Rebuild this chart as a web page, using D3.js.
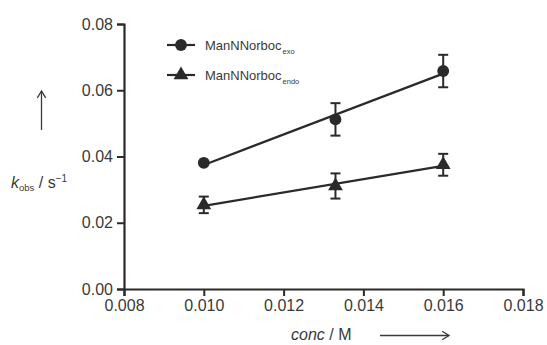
<!DOCTYPE html>
<html>
<head>
<meta charset="utf-8">
<script src="https://cdn.jsdelivr.net/npm/d3@7"></script>
<style>
  body { margin: 0; background: #fff; }
  svg { display: block; font-family: "Liberation Sans", Arial, sans-serif; }
</style>
</head>
<body>
<div id="chart"></div>
<script>
// data
const conc = [0.010, 0.0133, 0.016];
const exoValues = [0.0381, 0.0512, 0.0658];
const exoErrors = [0, 0.0049, 0.0049];
const endoValues = [0.0254, 0.0311, 0.0375];
const endoErrors = [0.0025, 0.0038, 0.0033];
const xTicks = [0.008, 0.010, 0.012, 0.014, 0.016, 0.018];
const yTicks = [0.00, 0.02, 0.04, 0.06, 0.08];

const width = 547, height = 345;
const ink = '#2a2a2a';
const textInk = '#3a3a3a';

const svg = d3.select('#chart').append('svg')
  .attr('width', width).attr('height', height);

const x = d3.scaleLinear().domain([0.008, 0.018]).range([124, 523]);
const y = d3.scaleLinear().domain([0, 0.08]).range([289, 24]);

// axes
const xAxis = svg.append('g')
  .attr('transform', `translate(0,${y(0)})`)
  .call(d3.axisBottom(x).tickValues(xTicks).tickFormat(d3.format('.3f')).tickSizeOuter(0).tickSize(7).tickPadding(4));
const yAxis = svg.append('g')
  .attr('transform', `translate(${x(0.008)},0)`)
  .call(d3.axisLeft(y).tickValues(yTicks).tickFormat(d3.format('.2f')).tickSizeOuter(0).tickSize(7).tickPadding(4));

[xAxis, yAxis].forEach(a => {
  a.select('.domain').attr('stroke', ink).attr('stroke-width', 2.2);
  a.selectAll('.tick line').attr('stroke', ink).attr('stroke-width', 2);
  a.selectAll('.tick text').attr('fill', textInk).attr('font-size', 16)
    .attr('font-family', '"Liberation Sans", Arial, sans-serif');
});

// linear fit for the lines
function fit(xs, ys) {
  const mx = d3.mean(xs), my = d3.mean(ys);
  const sxy = d3.sum(xs, (v, i) => (v - mx) * (ys[i] - my));
  const sxx = d3.sum(xs, v => (v - mx) * (v - mx));
  const b = sxy / sxx;
  return v => my + b * (v - mx);
}

const series = [
  {name: 'exo', values: exoValues, errors: exoErrors, symbol: d3.symbolCircle, size: 110},
  {name: 'endo', values: endoValues, errors: endoErrors, symbol: d3.symbolTriangle, size: 95},
];

series.forEach(s => {
  const f = fit(conc, s.values);
  const x0 = conc[0], x1 = conc[conc.length - 1];
  svg.append('line')
    .attr('x1', x(x0)).attr('y1', y(f(x0)))
    .attr('x2', x(x1)).attr('y2', y(f(x1)))
    .attr('stroke', ink).attr('stroke-width', 2.2);

  const g = svg.append('g');
  conc.forEach((c, i) => {
    const e = s.errors[i];
    if (e > 0) {
      const cx = x(c), yt = y(s.values[i] + e), yb = y(s.values[i] - e);
      g.append('line').attr('x1', cx).attr('x2', cx).attr('y1', yt).attr('y2', yb)
        .attr('stroke', ink).attr('stroke-width', 2);
      [yt, yb].forEach(yy => g.append('line')
        .attr('x1', cx - 5).attr('x2', cx + 5).attr('y1', yy).attr('y2', yy)
        .attr('stroke', ink).attr('stroke-width', 2));
    }
    g.append('path')
      .attr('d', d3.symbol(s.symbol, s.size)())
      .attr('transform', `translate(${x(c)},${y(s.values[i])})`)
      .attr('fill', ink);
  });
});

// legend
const legend = svg.append('g').attr('font-size', 13).attr('fill', textInk);
series.forEach((s, i) => {
  const ly = 45 + i * 30;
  legend.append('line').attr('x1', 167).attr('x2', 195).attr('y1', ly).attr('y2', ly)
    .attr('stroke', ink).attr('stroke-width', 2.2);
  legend.append('path').attr('d', d3.symbol(s.symbol, s.size)())
    .attr('transform', `translate(181,${ly})`).attr('fill', ink);
  const t = legend.append('text').attr('x', 205).attr('y', ly + 4.5);
  t.append('tspan').text('ManNNorboc');
  t.append('tspan').attr('font-size', 7.5).attr('dx', 1).attr('dy', 4).text(s.name);
});

// y axis title
const yl = svg.append('text').attr('x', 11).attr('y', 188).attr('font-size', 16).attr('fill', textInk);
yl.append('tspan').attr('font-style', 'italic').text('k');
yl.append('tspan').attr('font-size', 9.5).attr('dy', 3).text('obs');
yl.append('tspan').attr('dy', -3).text(' / s');
yl.append('tspan').attr('font-size', 10).attr('dy', -6).text('\u22121');

// x axis title
const xl = svg.append('text').attr('x', 291).attr('y', 340).attr('font-size', 16).attr('fill', textInk);
xl.append('tspan').attr('font-style', 'italic').text('conc');
xl.append('tspan').text(' / M');

// arrows
function arrow(x1, y1, x2, y2) {
  const a = Math.atan2(y2 - y1, x2 - x1);
  const h = 8, w = 0.55;
  svg.append('line').attr('x1', x1).attr('y1', y1).attr('x2', x2).attr('y2', y2)
    .attr('stroke', textInk).attr('stroke-width', 1.3);
  svg.append('path')
    .attr('d', `M${x2 - h * Math.cos(a - w)},${y2 - h * Math.sin(a - w)}L${x2},${y2}L${x2 - h * Math.cos(a + w)},${y2 - h * Math.sin(a + w)}`)
    .attr('fill', 'none').attr('stroke', textInk).attr('stroke-width', 1.3);
}
arrow(41.5, 130, 41.5, 91);
arrow(380, 335.5, 449, 335.5);
</script>
</body>
</html>
